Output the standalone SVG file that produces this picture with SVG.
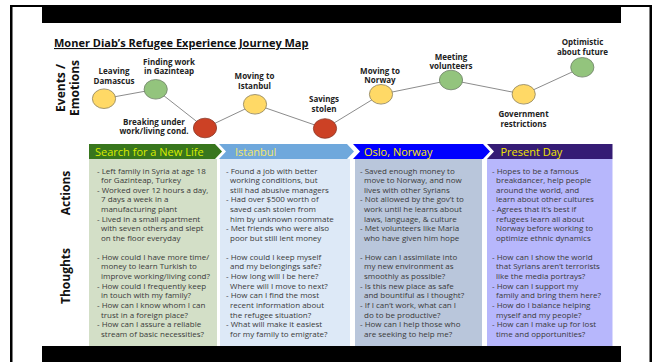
<svg xmlns="http://www.w3.org/2000/svg" width="655" height="362" viewBox="0 0 655 362">
<style>
.frame{fill:#000}
.title{font-family:"Open Sans","Liberation Sans",sans-serif;font-weight:bold;font-size:11px;fill:#111;text-decoration:underline}
.row{font-family:"Open Sans","Liberation Sans",sans-serif;font-weight:bold;font-size:12px;fill:#111;text-anchor:middle}
.nl{font-family:"Open Sans","Liberation Sans",sans-serif;font-weight:bold;font-size:8px;fill:#222;text-anchor:middle}
.ban{font-family:"Open Sans","Liberation Sans",sans-serif;font-size:11px}
.body{font-family:"Open Sans","Liberation Sans",sans-serif;font-size:8px;fill:#3a3a3a}
.yel{fill:#ffd966;stroke:#8a8060;stroke-width:0.8}
.grn{fill:#93c47d;stroke:#6f7f68;stroke-width:0.8}
.red{fill:#cc4125;stroke:#8a3a2a;stroke-width:0.8}
.conn line{stroke:#8c8c8c;stroke-width:1}
</style>
<rect width="655" height="362" fill="#fff"/>
<g id="frame">
<rect class="frame" x="10" y="5" width="642" height="2"/>
<rect class="frame" x="10" y="5" width="2.5" height="357"/>
<rect class="frame" x="649.5" y="5" width="2.5" height="357"/>
<rect class="frame" x="42" y="5" width="579" height="18"/>
</g>
<text class="title" x="54" y="47">Moner Diab’s Refugee Experience Journey Map</text>
<g id="row-labels">
<text class="row" transform="translate(64.5,88) rotate(-90)">Events /</text>
<text class="row" transform="translate(78.5,88) rotate(-90)">Emotions</text>
<text class="row" transform="translate(70,193) rotate(-90)">Actions</text>
<text class="row" transform="translate(70,276) rotate(-90)">Thoughts</text>
</g>
<g class="conn" id="connectors">
<line x1="104" y1="98.7" x2="155.7" y2="89.3"/>
<line x1="155.7" y1="89.3" x2="205" y2="128"/>
<line x1="205" y1="128" x2="255" y2="104.3"/>
<line x1="255" y1="104.3" x2="325" y2="128.5"/>
<line x1="325" y1="128.5" x2="381" y2="94.3"/>
<line x1="381" y1="94.3" x2="451" y2="80"/>
<line x1="451" y1="80" x2="523.7" y2="94.3"/>
<line x1="523.7" y1="94.3" x2="582.3" y2="67.3"/>
</g>
<g id="n-leaving"><ellipse class="yel" cx="104" cy="98.7" rx="11.6" ry="9.8"/><text class="nl" x="114" y="74">Leaving</text><text class="nl" x="114" y="83.7">Damascus</text></g>
<g id="n-finding"><ellipse class="grn" cx="155.7" cy="89.3" rx="11.6" ry="9.8"/><text class="nl" x="169" y="64.5">Finding work</text><text class="nl" x="169" y="74.2">in Gazinteap</text></g>
<g id="n-breaking"><ellipse class="red" cx="205" cy="128" rx="11.6" ry="9.8"/><text class="nl" x="154" y="124.5">Breaking under</text><text class="nl" x="154" y="134.2">work/living cond.</text></g>
<g id="n-istanbul"><ellipse class="yel" cx="255" cy="104.3" rx="11.6" ry="9.8"/><text class="nl" x="254.5" y="79">Moving to</text><text class="nl" x="254.5" y="88.7">Istanbul</text></g>
<g id="n-stolen"><ellipse class="red" cx="325" cy="128.5" rx="11.6" ry="9.8"/><text class="nl" x="324" y="102">Savings</text><text class="nl" x="324" y="111.7">stolen</text></g>
<g id="n-norway"><ellipse class="yel" cx="381" cy="94.3" rx="11.6" ry="9.8"/><text class="nl" x="380" y="73.5">Moving to</text><text class="nl" x="380" y="83.2">Norway</text></g>
<g id="n-volunteers"><ellipse class="grn" cx="451" cy="80" rx="11.6" ry="9.8"/><text class="nl" x="451" y="59.5">Meeting</text><text class="nl" x="451" y="69.2">volunteers</text></g>
<g id="n-government"><ellipse class="yel" cx="523.7" cy="94.3" rx="11.6" ry="9.8"/><text class="nl" x="523.5" y="117">Government</text><text class="nl" x="523.5" y="126.7">restrictions</text></g>
<g id="n-optimistic"><ellipse class="grn" cx="582.3" cy="67.3" rx="11.6" ry="9.8"/><text class="nl" x="582.5" y="45">Optimistic</text><text class="nl" x="582.5" y="54.7">about future</text></g>

<g id="col-search">
<rect x="89" y="159" width="128" height="187" fill="#d3dfc7"/>
<path d="M89,144 H215 L222,151.5 L215,159 H89 Z" fill="#38761d"/>
<text class="ban" x="95" y="155.5" fill="#d8ec00">Search for a New Life</text>
<text class="body">
<tspan x="97" y="173.5">- Left family in Syria at age 18</tspan>
<tspan x="101" y="183.1">for Gazinteap, Turkey</tspan>
<tspan x="97" y="192.8">- Worked over 12 hours a day,</tspan>
<tspan x="101" y="202.4">7 days a week in a</tspan>
<tspan x="101" y="212.1">manufacturing plant</tspan>
<tspan x="97" y="221.7">- Lived in a small apartment</tspan>
<tspan x="101" y="231.4">with seven others and slept</tspan>
<tspan x="101" y="241">on the floor everyday</tspan>
</text>
<text class="body">
<tspan x="97" y="259.5">- How could I have more time/</tspan>
<tspan x="101" y="269.2">money to learn Turkish to</tspan>
<tspan x="101" y="278.9">improve working/living cond?</tspan>
<tspan x="97" y="288.5">- How could I frequently keep</tspan>
<tspan x="101" y="298.2">in touch with my family?</tspan>
<tspan x="97" y="307.9">- How can I know whom I can</tspan>
<tspan x="101" y="317.6">trust in a foreign place?</tspan>
<tspan x="97" y="327.3">- How can I assure a reliable</tspan>
<tspan x="101" y="337">stream of basic necessities?</tspan>
</text>
</g>

<g id="col-istanbul">
<rect x="220" y="159" width="130" height="187" fill="#dde9f7"/>
<path d="M219,144 H347 L354,151.5 L347,159 H219 L226,151.5 Z" fill="#6fa8dc"/>
<text class="ban" x="235" y="155.5" fill="#f4e66a">Istanbul</text>
<text class="body">
<tspan x="226" y="173.5">- Found a job with better</tspan>
<tspan x="230" y="183.1">working conditions, but</tspan>
<tspan x="230" y="192.8">still had abusive managers</tspan>
<tspan x="226" y="202.4">- Had over $500 worth of</tspan>
<tspan x="230" y="212.1">saved cash stolen from</tspan>
<tspan x="230" y="221.7">him by unknown roommate</tspan>
<tspan x="226" y="231.4">- Met friends who were also</tspan>
<tspan x="230" y="241">poor but still lent money</tspan>
</text>
<text class="body">
<tspan x="226" y="259.5">- How could I keep myself</tspan>
<tspan x="230" y="269.2">and my belongings safe?</tspan>
<tspan x="226" y="278.9">- How long will I be here?</tspan>
<tspan x="230" y="288.5">Where will I move to next?</tspan>
<tspan x="226" y="298.2">- How can I find the most</tspan>
<tspan x="230" y="307.9">recent information about</tspan>
<tspan x="230" y="317.6">the refugee situation?</tspan>
<tspan x="226" y="327.3">- What will make it easiest</tspan>
<tspan x="230" y="337">for my family to emigrate?</tspan>
</text>
</g>

<g id="col-oslo">
<rect x="355" y="159" width="127" height="187" fill="#b9c6db"/>
<path d="M353,144 H483 L490,151.5 L483,159 H353 L360,151.5 Z" fill="#0000ff"/>
<text class="ban" x="364" y="155.5" fill="#ffe800">Oslo, Norway</text>
<text class="body">
<tspan x="360" y="173.5">- Saved enough money to</tspan>
<tspan x="364" y="183.1">move to Norway, and now</tspan>
<tspan x="364" y="192.8">lives with other Syrians</tspan>
<tspan x="360" y="202.4">- Not allowed by the gov’t to</tspan>
<tspan x="364" y="212.1">work until he learns about</tspan>
<tspan x="364" y="221.7">laws, language, &amp; culture</tspan>
<tspan x="360" y="231.4">- Met volunteers like Maria</tspan>
<tspan x="364" y="241">who have given him hope</tspan>
</text>
<text class="body">
<tspan x="360" y="259.5">- How can I assimilate into</tspan>
<tspan x="364" y="269.2">my new environment as</tspan>
<tspan x="364" y="278.9">smoothly as possible?</tspan>
<tspan x="360" y="288.5">- Is this new place as safe</tspan>
<tspan x="364" y="298.2">and bountiful as I thought?</tspan>
<tspan x="360" y="307.9">- If I can’t work, what can I</tspan>
<tspan x="364" y="317.6">do to be productive?</tspan>
<tspan x="360" y="327.3">- How can I help those who</tspan>
<tspan x="364" y="337">are seeking to help me?</tspan>
</text>
</g>

<g id="col-present">
<rect x="487" y="159" width="125.5" height="187" fill="#b7b7fc"/>
<path d="M487,144 H612.5 V159 H487 L494,151.5 Z" fill="#351c75"/>
<text class="ban" x="500.5" y="155.5" fill="#f2e400">Present Day</text>
<text class="body">
<tspan x="492" y="173.5">- Hopes to be a famous</tspan>
<tspan x="496" y="183.1">breakdancer, help people</tspan>
<tspan x="496" y="192.8">around the world, and</tspan>
<tspan x="496" y="202.4">learn about other cultures</tspan>
<tspan x="492" y="212.1">- Agrees that it’s best if</tspan>
<tspan x="496" y="221.7">refugees learn all about</tspan>
<tspan x="496" y="231.4">Norway before working to</tspan>
<tspan x="496" y="241">optimize ethnic dynamics</tspan>
</text>
<text class="body">
<tspan x="492" y="259.5">- How can I show the world</tspan>
<tspan x="496" y="269.2">that Syrians aren’t terrorists</tspan>
<tspan x="496" y="278.9">like the media portrays?</tspan>
<tspan x="492" y="288.5">- How can I support my</tspan>
<tspan x="496" y="298.2">family and bring them here?</tspan>
<tspan x="492" y="307.9">- How do I balance helping</tspan>
<tspan x="496" y="317.6">myself and my people?</tspan>
<tspan x="492" y="327.3">- How can I make up for lost</tspan>
<tspan x="496" y="337">time and opportunities?</tspan>
</text>
</g>
<rect class="frame" x="42" y="346" width="579" height="16"/>
</svg>
